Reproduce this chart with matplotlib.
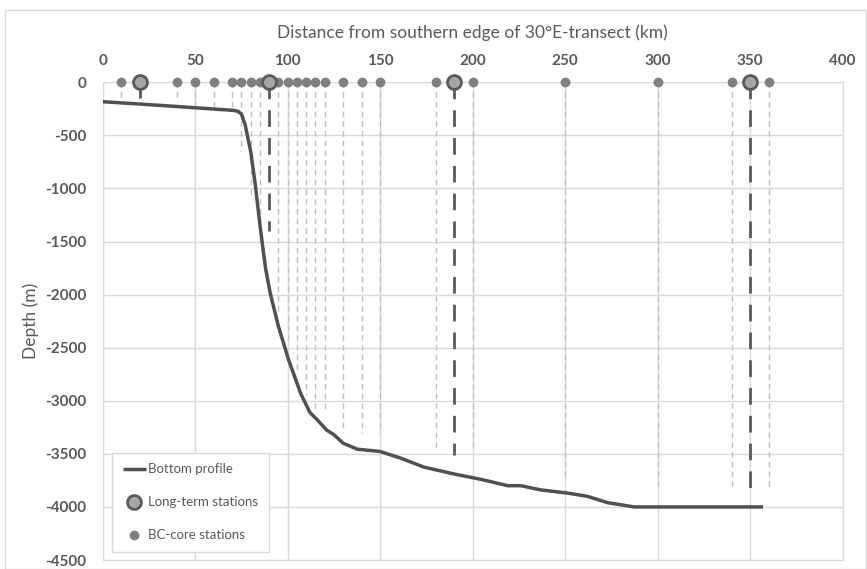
import matplotlib
matplotlib.use("Agg")
import matplotlib.pyplot as plt
from matplotlib.patches import Rectangle

# bottom profile (km, m)
prof_x = [0, 20, 40, 60, 70, 73, 75, 77, 80, 82.5, 85, 88, 90.6, 95, 100.5, 107, 112, 116, 121,
          125, 130, 137.6, 150, 161, 173.7, 190, 204.4, 219, 226, 237, 251.4, 262, 273, 287.4, 357]
prof_y = [-183, -205, -228, -252, -264, -272, -300, -400, -653, -967, -1344, -1750, -1990, -2300,
          -2615, -2930, -3110, -3180, -3275, -3320, -3400, -3456, -3478, -3540, -3625, -3690, -3740,
          -3800, -3800, -3840, -3870, -3900, -3960, -4000, -4000]

# long-term stations and depth of their drop lines
lt_x = [20, 90, 190, 350]
lt_end = [-150, -1400, -3510, -3840]

# BC-core stations and depth of their drop lines
bc_x = [10, 40, 50, 60, 70, 75, 80, 85, 95, 100, 105, 110, 115, 120, 130, 140, 150,
        180, 200, 250, 300, 340, 360]
bc_end = [-170, -190, -210, -230, -260, -650, -1100, -1550, -2150, -2450, -2750, -2950,
          -3100, -3100, -3300, -3300, -3300, -3460, -3470, -3730, -3800, -3800, -3810]

x_ticks = [0, 50, 100, 150, 200, 250, 300, 350, 400]
y_ticks = [0, -500, -1000, -1500, -2000, -2500, -3000, -3500, -4000, -4500]

plt.rcParams['font.family'] = ['Lato', 'DejaVu Sans']
plt.rcParams['axes.unicode_minus'] = False
txt = '#595959'

fig = plt.figure(figsize=(8.67, 5.69), dpi=100)
ax = fig.add_axes([0.1185, 0.0158, 0.8533, 0.8396])

# drop lines
for x, e in zip(bc_x, bc_end):
    ax.plot([x, x], [0, e], color='#bfbfbf', lw=1, ls=(0, (4, 3)), zorder=2)
for x, e in zip(lt_x, lt_end):
    ax.plot([x, x], [0, e], color='#595959', lw=2, ls=(0, (6, 4)), zorder=3)

ax.plot(prof_x, prof_y, color='#505050', lw=2.5, label='Bottom profile', zorder=4,
        solid_capstyle='butt')
ax.plot(lt_x, [0] * len(lt_x), ls='none', marker='o', ms=10, mfc='#a6a6a6', mec='#595959',
        mew=2, label='Long-term stations', zorder=6, clip_on=False)
ax.plot(bc_x, [0] * len(bc_x), ls='none', marker='o', ms=6, mfc='#808080', mec='#808080',
        label='BC-core stations', zorder=5, clip_on=False)

ax.set_xlim(0, 400)
ax.set_ylim(-4500, 0)
ax.set_xticks(x_ticks)
ax.set_yticks(y_ticks)
ax.xaxis.tick_top()
ax.xaxis.set_label_position('top')
ax.tick_params(axis='both', length=0, labelsize=11, labelcolor=txt)
ax.tick_params(axis='x', pad=10)
ax.tick_params(axis='y', pad=12)
for lab in ax.get_xticklabels() + ax.get_yticklabels():
    lab.set_fontweight('bold')
ax.grid(True, color='#d9d9d9', lw=1)
ax.set_axisbelow(True)
for s in ax.spines.values():
    s.set_color('#d9d9d9')

ax.set_xlabel('Distance from southern edge of 30\u00b0E-transect (km)', fontsize=12.5,
              color=txt, labelpad=12)
ax.set_ylabel('Depth (m)', fontsize=12.5, color=txt, labelpad=4)

leg = ax.legend(loc='lower left', bbox_to_anchor=(0.0126, 0.0167), borderaxespad=0,
                fontsize=9.5, labelcolor=txt, fancybox=False, edgecolor='#d9d9d9',
                framealpha=1, labelspacing=1.6, handlelength=1.8, handletextpad=0.15,
                borderpad=0.8)

fig.patches.append(Rectangle((0.006, 0.0), 0.993, 0.982, transform=fig.transFigure,
                             fill=False, edgecolor='#d9d9d9', lw=1))

fig.savefig('out.png', dpi=100)
